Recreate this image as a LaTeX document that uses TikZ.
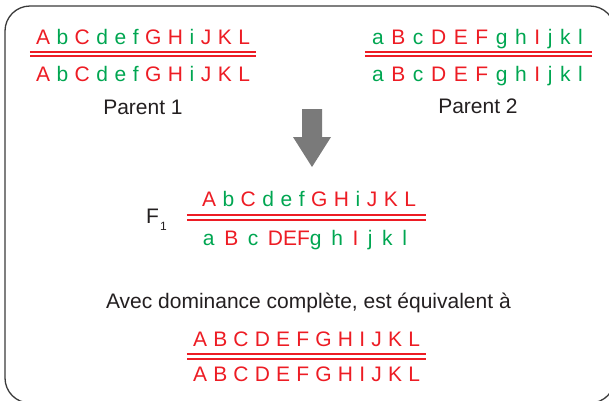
\documentclass[tikz,border=0pt]{standalone}
\usepackage{fontspec}
\setmainfont{Liberation Sans}

\definecolor{allred}{HTML}{ED1C24}
\definecolor{allgreen}{HTML}{00A651}
\definecolor{textdark}{HTML}{231F20}
\definecolor{arrowgray}{HTML}{7A7A7A}
\definecolor{framegray}{HTML}{3A3A3A}

% allèles dominants en rouge, récessifs en vert
\newcommand{\rd}[1]{\textcolor{allred}{#1}}
\newcommand{\gn}[1]{\textcolor{allgreen}{#1}}

\begin{document}
\begin{tikzpicture}[x=1pt, y=-1pt,
  gene/.style={font=\fontsize{21}{24}\selectfont, execute at begin node={\spaceskip=#1\relax},
    inner sep=0pt, anchor=base},
  gene/.default=6.5pt,
  chromo/.style={draw=allred, line width=1.8pt, double=white, double distance=2.5pt},
  legend/.style={font=\fontsize{21}{24}\selectfont, text=textdark, inner sep=0pt, anchor=base}]
  \useasboundingbox (0,0) rectangle (609,400);
  % Cadre
  \draw[framegray, line width=1.3pt, rounded corners=25pt] (5,6) rectangle (615,403);
  % Parent 1
  \node[gene] (p1top) at (143,44) {\rd{A} \gn{b} \rd{C} \gn{d} \gn{e} \gn{f} \rd{G} \rd{H} \gn{i} \rd{J} \rd{K} \rd{L}};
  \node[gene] (p1bot) at (143,81) {\rd{A} \gn{b} \rd{C} \gn{d} \gn{e} \gn{f} \rd{G} \rd{H} \gn{i} \rd{J} \rd{K} \rd{L}};
  \draw[chromo] ([shift={(-6,9.8)}]p1top.base west) -- ([shift={(6,9.8)}]p1top.base east);
  \node[legend] (p1name) at (143,114) {Parent 1};
  % Parent 2
  \node[gene=7.6pt] (p2top) at (477.5,44) {\gn{a} \rd{B} \gn{c} \rd{D} \rd{E} \rd{F} \gn{g} \gn{h} \rd{I} \gn{j} \gn{k} \gn{l}};
  \node[gene=7.6pt] (p2bot) at (477.5,81) {\gn{a} \rd{B} \gn{c} \rd{D} \rd{E} \rd{F} \gn{g} \gn{h} \rd{I} \gn{j} \gn{k} \gn{l}};
  \draw[chromo] ([shift={(-7,9.8)}]p2top.base west) -- ([shift={(9,9.8)}]p2top.base east);
  \node[legend] (p2name) at (478,113) {Parent 2};
  % Flèche de croisement
  \fill[arrowgray] (302,109) -- (322,109) -- (322,137) -- (331,137) -- (312,167)
    -- (293,137) -- (302,137) -- cycle;
  % Génération F1
  \node[legend, anchor=base west] (f1name) at (146,223)
    {F\kern1pt\raisebox{-7.5pt}{\fontsize{12}{12}\selectfont 1}};
  \node[gene] (f1top) at (309,206.7) {\rd{A} \gn{b} \rd{C} \gn{d} \gn{e} \gn{f} \rd{G} \rd{H} \gn{i} \rd{J} \rd{K} \rd{L}};
  \node[gene=9.6pt] (f1bot) at (305,245) {\gn{a} \rd{B} \gn{c} \rd{DEF}\gn{g} \gn{h} \rd{I} \gn{j} \gn{k} \gn{l}};
  \draw[chromo] ([shift={(-15,10.8)}]f1top.base west) -- ([shift={(10,10.8)}]f1top.base east);
  % Phénotype équivalent
  \node[legend] (equiv) at (308.4,308) {Avec dominance complète, est équivalent à};
  \node[gene=6.2pt] (domtop) at (306.5,346.7) {\rd{A B C D E F G H I J K L}};
  \node[gene=6.2pt] (dombot) at (306.5,381.7) {\rd{A B C D E F G H I J K L}};
  \draw[chromo] ([shift={(-6,9.8)}]domtop.base west) -- ([shift={(6,9.8)}]domtop.base east);
\end{tikzpicture}
\end{document}
